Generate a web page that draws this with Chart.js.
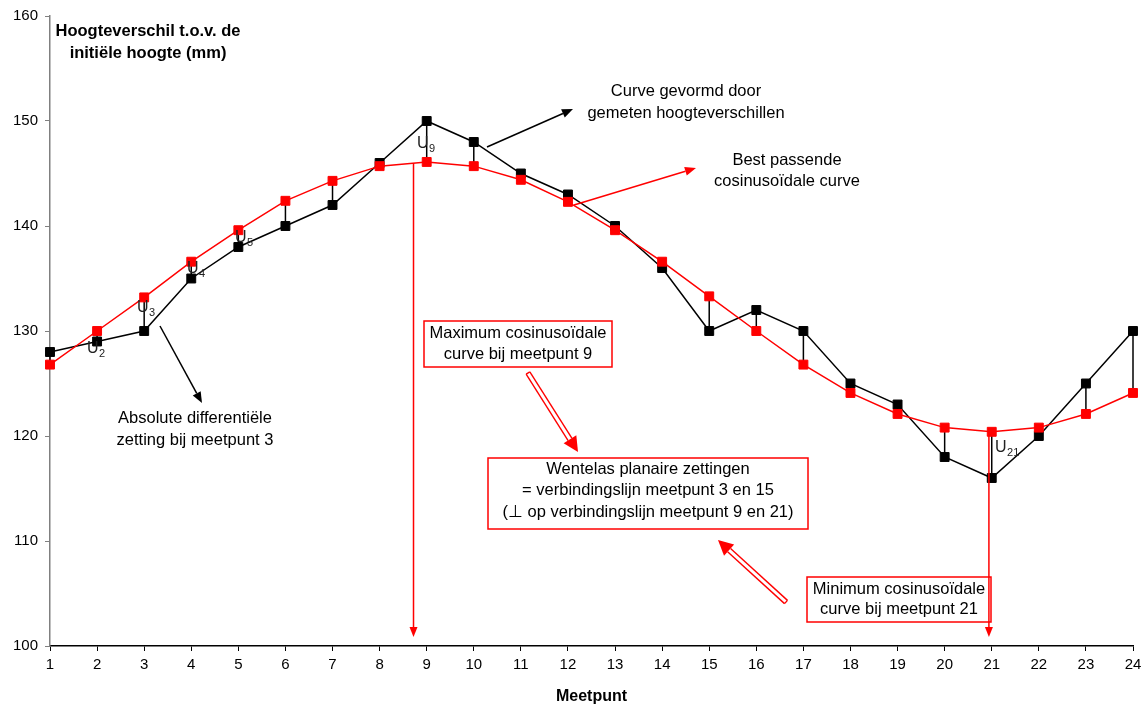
<!DOCTYPE html>
<html>
<head>
<meta charset="utf-8">
<script src="https://cdn.jsdelivr.net/npm/chart.js@4.4.1/dist/chart.umd.min.js"></script>
<style>
  html, body { margin: 0; padding: 0; background: #fff; }
  #wrap { width: 1147px; height: 706px; position: relative; }
</style>
</head>
<body>
<div id="wrap"><canvas id="c" width="1147" height="706"></canvas></div>
<script>
// ---- Data ----
const meetpunten = [1,2,3,4,5,6,7,8,9,10,11,12,13,14,15,16,17,18,19,20,21,22,23,24];
const gemeten   = [128,129,130,135,138,140,142,146,150,148,145,143,140,136,130,132,130,125,123,118,116,120,125,130];
const cosinus   = [126.8,130.0,133.2,136.6,139.6,142.4,144.3,145.7,146.1,145.7,144.4,142.3,139.6,136.6,133.3,130.0,126.8,124.1,122.1,120.8,120.4,120.8,122.1,124.1];
const yTicks    = [100,110,120,130,140,150,160];
const uLabels   = ["2","3","4","5","9","21"];

const FONT = "'Liberation Sans', Arial, sans-serif";
Chart.defaults.font.family = FONT;
Chart.defaults.font.size = 15;
Chart.defaults.color = '#000';

// vertical connectors between measured and fitted curve
const connectors = {
  id: 'connectors',
  beforeDatasetsDraw(chart) {
    const { ctx, scales: { x, y } } = chart;
    ctx.save();
    ctx.strokeStyle = '#000';
    ctx.lineWidth = 1.5;
    meetpunten.forEach((m, i) => {
      const px = x.getPixelForValue(m);
      ctx.beginPath();
      ctx.moveTo(px, y.getPixelForValue(gemeten[i]));
      ctx.lineTo(px, y.getPixelForValue(cosinus[i]));
      ctx.stroke();
    });
    ctx.restore();
  }
};

function arrow(ctx, x1, y1, x2, y2, color, lw, hl, hw) {
  const a = Math.atan2(y2 - y1, x2 - x1);
  const bx = x2 - hl * Math.cos(a), by = y2 - hl * Math.sin(a);
  ctx.save();
  ctx.strokeStyle = color; ctx.fillStyle = color; ctx.lineWidth = lw;
  ctx.beginPath(); ctx.moveTo(x1, y1); ctx.lineTo(bx, by); ctx.stroke();
  ctx.beginPath();
  ctx.moveTo(x2, y2);
  ctx.lineTo(bx + hw * Math.sin(a), by - hw * Math.cos(a));
  ctx.lineTo(bx - hw * Math.sin(a), by + hw * Math.cos(a));
  ctx.closePath(); ctx.fill();
  ctx.restore();
}

function doubleArrow(ctx, x1, y1, x2, y2, color) {
  const a = Math.atan2(y2 - y1, x2 - x1);
  const hl = 15, hw = 7.5, off = 2.2;
  const bx = x2 - hl * Math.cos(a), by = y2 - hl * Math.sin(a);
  const nx = Math.sin(a) * off, ny = -Math.cos(a) * off;
  ctx.save();
  ctx.strokeStyle = color; ctx.fillStyle = color; ctx.lineWidth = 1.4;
  [1, -1].forEach(s => {
    ctx.beginPath();
    ctx.moveTo(x1 + s * nx, y1 + s * ny);
    ctx.lineTo(bx + s * nx, by + s * ny);
    ctx.stroke();
  });
  ctx.beginPath();
  ctx.moveTo(x1 + nx, y1 + ny); ctx.lineTo(x1 - nx, y1 - ny); ctx.stroke();
  ctx.beginPath();
  ctx.moveTo(x2, y2);
  ctx.lineTo(bx + hw * Math.sin(a), by - hw * Math.cos(a));
  ctx.lineTo(bx - hw * Math.sin(a), by + hw * Math.cos(a));
  ctx.closePath(); ctx.fill();
  ctx.restore();
}

function lines(ctx, arr, cx, y0, dy, font) {
  ctx.save();
  ctx.font = font; ctx.fillStyle = '#000';
  ctx.textAlign = 'center'; ctx.textBaseline = 'middle';
  arr.forEach((t, i) => ctx.fillText(t, cx, y0 + i * dy));
  ctx.restore();
}

function box(ctx, x1, y1, x2, y2) {
  ctx.save();
  ctx.strokeStyle = '#ff0000'; ctx.lineWidth = 1.5;
  ctx.strokeRect(x1, y1, x2 - x1, y2 - y1);
  ctx.restore();
}

function uLabel(ctx, sub, x, y) {
  ctx.save();
  ctx.fillStyle = '#222';
  ctx.textAlign = 'left'; ctx.textBaseline = 'alphabetic';
  ctx.font = '16px ' + FONT;
  ctx.fillText('U', x, y);
  const w = ctx.measureText('U').width;
  ctx.font = '11px ' + FONT;
  ctx.fillText(sub, x + w + 0.5, y + 4);
  ctx.restore();
}

const annotations = {
  id: 'annotations',
  afterDatasetsDraw(chart) {
    const { ctx, scales: { x, y } } = chart;
    const F = '16.5px ' + FONT;
    const FB = 'bold 16.5px ' + FONT;

    // axis title (top-left)
    lines(ctx, ['Hoogteverschil t.o.v. de', 'initiële hoogte (mm)'], 148, 31, 22, FB);

    // measured curve label
    lines(ctx, ['Curve gevormd door', 'gemeten hoogteverschillen'], 686, 91, 22, F);
    arrow(ctx, 487, 147, 573, 109, '#000', 1.5, 11, 4.5);

    // fitted curve label
    lines(ctx, ['Best passende', 'cosinusoïdale curve'], 787, 160, 21, F);
    arrow(ctx, 574, 205, 696, 168, '#ff0000', 1.5, 11, 4.5);

    // absolute differential settlement
    lines(ctx, ['Absolute differentiële', 'zetting bij meetpunt 3'], 195, 418, 22, F);
    arrow(ctx, 160, 326, 202, 403, '#000', 1.5, 11, 4.5);

    // boxes
    box(ctx, 424, 321, 612, 367);
    lines(ctx, ['Maximum cosinusoïdale', 'curve bij meetpunt 9'], 518, 333, 21, F);
    box(ctx, 488, 458, 808, 529);
    lines(ctx, ['Wentelas planaire zettingen', '= verbindingslijn meetpunt 3 en 15', '(\u22A5 op verbindingslijn meetpunt 9 en 21)'], 648, 469, 21.5, F);
    box(ctx, 807, 577, 991, 622);
    lines(ctx, ['Minimum cosinusoïdale', 'curve bij meetpunt 21'], 899, 589, 20.5, F);

    doubleArrow(ctx, 528, 373, 578, 452, '#ff0000');
    doubleArrow(ctx, 786, 602, 718, 540, '#ff0000');

    // vertical red lines to the x axis
    const tipY = y.getPixelForValue(100) - 9;
    const xMax = x.getPixelForValue(8.72), xMin = x.getPixelForValue(20.94);
    arrow(ctx, xMax, y.getPixelForValue(146.0), xMax, tipY, '#ff0000', 1.5, 10, 4);
    arrow(ctx, xMin, y.getPixelForValue(120.4), xMin, tipY, '#ff0000', 1.5, 10, 4);

    // U labels
    const pos = [[87, 353], [137, 312], [187, 273], [235, 242], [417, 148], [995, 452]];
    uLabels.forEach((s, i) => uLabel(ctx, s, pos[i][0], pos[i][1]));
  }
};

const chart = new Chart(document.getElementById('c'), {
  type: 'line',
  data: {
    datasets: [
      {
        label: 'Best passende cosinusoïdale curve',
        data: meetpunten.map((m, i) => ({ x: m, y: cosinus[i] })),
        borderColor: '#ff0000', backgroundColor: '#ff0000',
        pointBackgroundColor: '#ff0000', pointBorderColor: '#ff0000',
        pointStyle: 'rect', pointRadius: 6.3, pointBorderWidth: 1,
        borderWidth: 1.5, tension: 0, order: 0, clip: false
      },
      {
        label: 'Gemeten hoogteverschillen',
        data: meetpunten.map((m, i) => ({ x: m, y: gemeten[i] })),
        borderColor: '#000', backgroundColor: '#000',
        pointBackgroundColor: '#000', pointBorderColor: '#000',
        pointStyle: 'rect', pointRadius: 6.3, pointBorderWidth: 1,
        borderWidth: 1.5, tension: 0, order: 1, clip: false
      }
    ]
  },
  options: {
    responsive: false,
    animation: false,
    devicePixelRatio: 1,
    layout: { padding: { top: 15, right: 14, left: 0, bottom: 0 } },
    plugins: { legend: { display: false }, tooltip: { enabled: false } },
    scales: {
      x: {
        type: 'linear', min: 1, max: 24,
        afterBuildTicks(s) { s.ticks = meetpunten.map(v => ({ value: v })); },
        ticks: { color: '#000', padding: 5, maxRotation: 0, autoSkip: false, font: { size: 15 } },
        grid: { drawOnChartArea: false, drawTicks: true, tickLength: 5, color: '#000', tickWidth: 1 },
        border: { color: '#000', width: 1.5 },
        title: { display: true, text: 'Meetpunt', color: '#000', font: { weight: 'bold', size: 16 }, padding: { top: 0, bottom: 0 } },
        afterFit(s) { s.height = 60; }
      },
      y: {
        type: 'linear', min: 100, max: 160,
        afterBuildTicks(s) { s.ticks = yTicks.map(v => ({ value: v })); },
        ticks: { color: '#000', padding: 7, font: { size: 15 } },
        grid: { drawOnChartArea: false, drawTicks: true, tickLength: 5, color: '#808080', tickWidth: 1 },
        border: { color: '#808080', width: 1.5 },
        afterFit(s) { s.width = 50; }
      }
    }
  },
  plugins: [connectors, annotations]
});
</script>
</body>
</html>
